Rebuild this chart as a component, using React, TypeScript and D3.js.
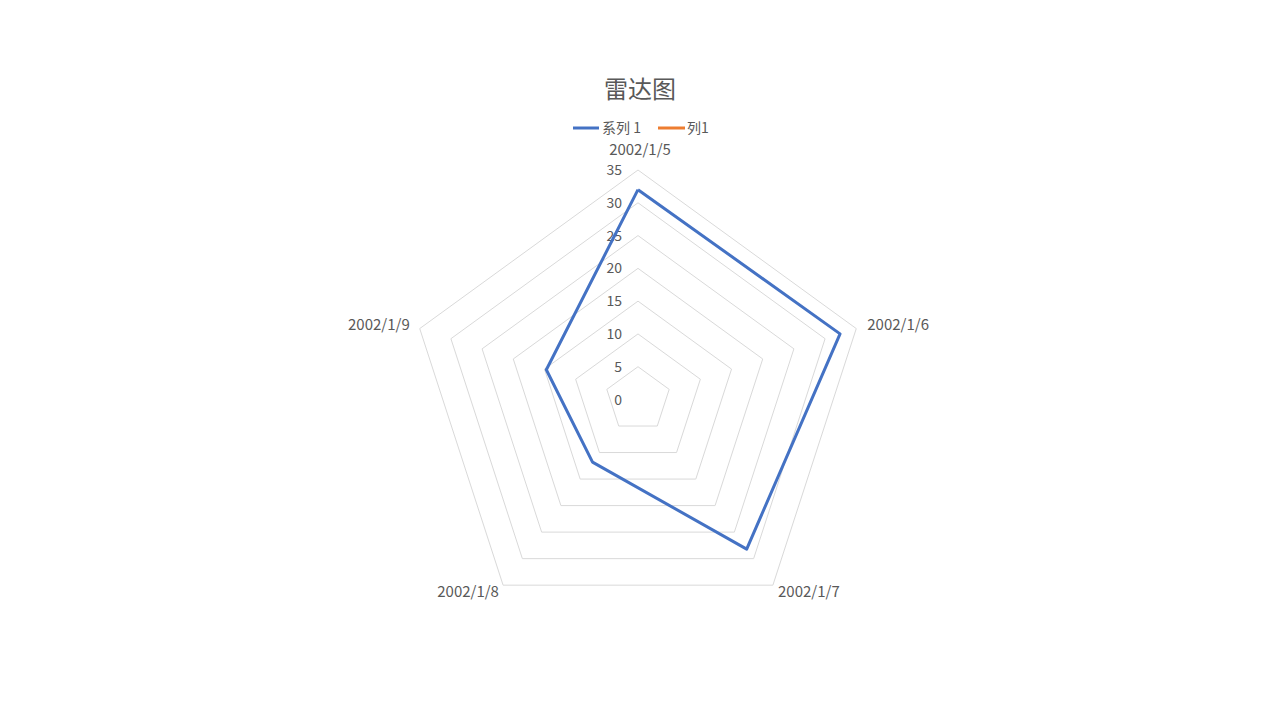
import * as d3 from 'd3';

const categories = ['2002/1/5', '2002/1/6', '2002/1/7', '2002/1/8', '2002/1/9'];
const series1 = [32, 32.4, 28.2, 11.8, 14.7];
const tickValues = [0, 5, 10, 15, 20, 25, 30, 35];
const legendItems = [
  { name: '系列 1', color: '#4472C4' },
  { name: '列1', color: '#ED7D31' },
];

const W = 1280;
const H = 720;
const cx = 638;
const cy = 399.5;
const R = 229.5;
const FONT = '"Noto Sans CJK SC", "Noto Sans", sans-serif';
const TEXT = '#595959';

export default function App() {
  const r = d3.scaleLinear().domain([0, 35]).range([0, R]);
  const angle = d3
    .scaleLinear()
    .domain([0, categories.length])
    .range([0, 2 * Math.PI]);

  const pt = (i: number, v: number): [number, number] => {
    const a = angle(i);
    return [cx + r(v) * Math.sin(a), cy - r(v) * Math.cos(a)];
  };

  const ring = (v: number) =>
    d3.line()(categories.map((_, i) => pt(i, v)).concat([pt(0, v)])) || '';

  const dataPath =
    d3.line()(series1.map((v, i) => pt(i, v)).concat([pt(0, series1[0])])) || '';

  // label positions around the outer ring
  const labelPos = categories.map((c, i) => {
    const [x, y] = pt(i, 35);
    const a = angle(i);
    const s = Math.sin(a);
    let anchor: 'start' | 'middle' | 'end' = 'middle';
    let lx = x;
    let ly = y;
    if (i === 0) {
      lx = x + 2;
      ly = y - 15;
    } else if (Math.abs(s) > 0.9) {
      anchor = s > 0 ? 'start' : 'end';
      lx = x + (s > 0 ? 11 : -10);
      ly = y + 1;
    } else {
      lx = x + (s > 0 ? 36 : -35);
      ly = y + 12;
    }
    return { c, lx, ly, anchor };
  });

  return (
    <svg
      width={W}
      height={H}
      style={{ position: 'absolute', left: 0, top: 0, background: '#fff' }}
    >
      <text
        x={640}
        y={98}
        textAnchor="middle"
        fontFamily={FONT}
        fontSize={24}
        fill={TEXT}
      >
        雷达图
      </text>

      {/* legend */}
      <g fontFamily={FONT} fontSize={14} fill={TEXT}>
        <line x1={573} x2={599} y1={128} y2={128} stroke={legendItems[0].color} strokeWidth={3} />
        <text x={602} y={133}>{legendItems[0].name}</text>
        <line x1={658} x2={685} y1={128} y2={128} stroke={legendItems[1].color} strokeWidth={3} />
        <text x={687} y={133}>{legendItems[1].name}</text>
      </g>

      {/* grid rings */}
      {tickValues.slice(1).map((v) => (
        <path key={v} d={ring(v)} fill="none" stroke="#d9d9d9" strokeWidth={1} />
      ))}

      {/* tick labels */}
      {tickValues.map((v) => (
        <text
          key={v}
          x={622}
          y={cy - r(v) + 5}
          textAnchor="end"
          fontFamily={FONT}
          fontSize={14}
          fill={TEXT}
        >
          {v}
        </text>
      ))}

      {/* series */}
      <path d={dataPath} fill="none" stroke={legendItems[0].color} strokeWidth={3} strokeLinejoin="round" />

      {/* category labels */}
      {labelPos.map((d) => (
        <text
          key={d.c}
          x={d.lx}
          y={d.ly}
          textAnchor={d.anchor}
          fontFamily={FONT}
          fontSize={15}
          fill={TEXT}
        >
          {d.c}
        </text>
      ))}
    </svg>
  );
}
